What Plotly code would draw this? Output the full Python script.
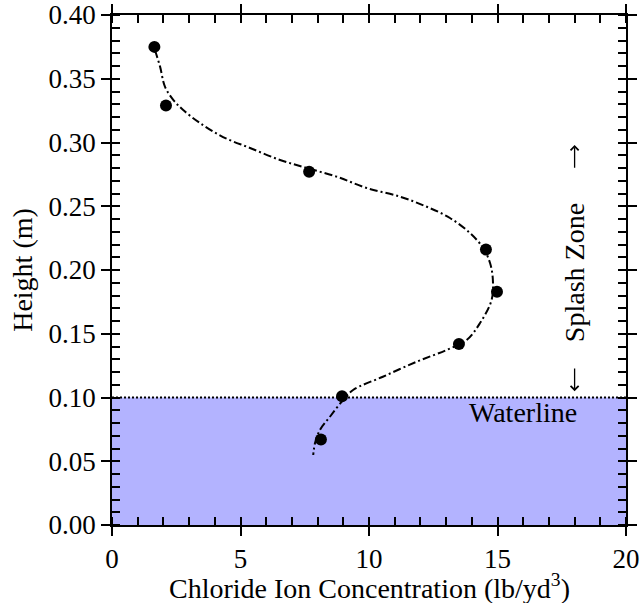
import plotly.graph_objects as go

# Measured points
conc = [1.65, 2.10, 7.67, 14.55, 14.98, 13.50, 8.95, 8.13]
height = [0.375, 0.329, 0.277, 0.216, 0.183, 0.142, 0.101, 0.067]

# Fitted curve
fit_x = [1.67, 1.87, 2.06, 2.39, 2.77, 3.42, 4.32, 5.37, 6.54, 7.58, 8.74, 9.91,
         11.21, 12.25, 13.15, 13.93, 14.44, 14.71, 14.82, 14.77, 14.32, 13.80,
         13.02, 11.86, 10.54, 9.38, 8.99, 8.48, 8.09, 7.90, 7.83]
fit_y = [0.3725, 0.3595, 0.3438, 0.3333, 0.3255, 0.3153, 0.3043, 0.2957, 0.2863,
         0.2800, 0.2732, 0.2643, 0.2575, 0.2496, 0.2408, 0.2290, 0.2173, 0.2055,
         0.1922, 0.1765, 0.1584, 0.1451, 0.1373, 0.1281, 0.1163, 0.1059, 0.0980,
         0.0849, 0.0745, 0.0643, 0.0549]

x_range = [0, 20]
y_range = [0, 0.40]
waterline = 0.10

# Splash-zone label and its arrows (data coords)
splash_x = 18
splash_label_y = 0.198
arrow_up = (0.279, 0.298)    # tail, tip
arrow_down = (0.124, 0.105)  # tail, tip

X_TITLE = "Chloride Ion Concentration (lb/yd<sup>3</sup>)"
Y_TITLE = "Height (m)"

FONT = "Liberation Serif"
TICK_FS = 27
XTITLE_FS = 28
YTITLE_FS = 28
ANN_FS = 28

fig = go.Figure()

# water region
fig.add_trace(go.Scatter(x=x_range, y=[waterline, waterline], mode="lines",
                         fill="tozeroy", fillcolor="#b3b3ff",
                         line=dict(color="black", width=2, dash="2px,2px"),
                         showlegend=False, hoverinfo="skip"))

fig.add_trace(go.Scatter(x=fit_x, y=fit_y, mode="lines", line_shape="spline",
                         line=dict(color="black", width=2, dash="8px,3px,2px,3px"),
                         showlegend=False))

fig.add_trace(go.Scatter(x=conc, y=height, mode="markers",
                         marker=dict(color="black", size=12),
                         showlegend=False))

# overlay axes for inside major ticks
fig.add_trace(go.Scatter(x=[], y=[], xaxis="x2", yaxis="y2", showlegend=False))

axcommon = dict(showline=True, linecolor="black", linewidth=1.5, mirror="allticks",
                showgrid=False, zeroline=False, tickcolor="black", tickwidth=1.5,
                automargin=False, tickfont=dict(size=TICK_FS))


def arrow(tail, tip):
    return dict(x=splash_x, y=tip, ax=splash_x, ay=tail, xref="x", yref="y",
                axref="x", ayref="y", text="", showarrow=True,
                arrowhead=4, arrowsize=1.2, arrowwidth=1.3, arrowcolor="black")


fig.update_layout(
    width=641, height=603,
    margin=dict(l=112, r=15, t=15, b=78),
    plot_bgcolor="white", paper_bgcolor="white",
    font=dict(family=FONT, size=TICK_FS, color="black"),
    xaxis=dict(range=x_range, dtick=5, tick0=0, ticks="outside", ticklen=9,
               minor=dict(dtick=1, ticks="inside", ticklen=8, tickcolor="black", tickwidth=1.5),
               **axcommon),
    yaxis=dict(range=y_range, dtick=0.05, tick0=0, ticks="outside", ticklen=9,
               tickformat=".2f",
               minor=dict(dtick=0.01, ticks="inside", ticklen=8, tickcolor="black", tickwidth=1.5),
               title=dict(text=Y_TITLE, standoff=8, font=dict(size=YTITLE_FS)),
               **axcommon),
    xaxis2=dict(range=x_range, dtick=5, tick0=0, ticks="inside", ticklen=8,
                overlaying="x", anchor="y2", side="bottom", showticklabels=False,
                showline=False, mirror="allticks", showgrid=False, zeroline=False,
                tickcolor="black", tickwidth=1.5, automargin=False),
    yaxis2=dict(range=y_range, dtick=0.05, tick0=0, ticks="inside", ticklen=8,
                overlaying="y", anchor="x2", side="left", showticklabels=False,
                showline=False, mirror="allticks", showgrid=False, zeroline=False,
                tickcolor="black", tickwidth=1.5, automargin=False),
    annotations=[
        dict(x=0.5, y=0, xref="paper", yref="paper", yanchor="top", yshift=-42,
             text=X_TITLE, showarrow=False,
             font=dict(family=FONT, size=XTITLE_FS, color="black")),
        dict(x=16, y=0.088, text="Waterline", showarrow=False,
             font=dict(family=FONT, size=ANN_FS, color="black")),
        dict(x=splash_x, y=splash_label_y, text="Splash Zone", showarrow=False, textangle=-90,
             font=dict(family=FONT, size=ANN_FS, color="black")),
        arrow(*arrow_up),
        arrow(*arrow_down),
    ],
)

fig.write_html("out.html")
